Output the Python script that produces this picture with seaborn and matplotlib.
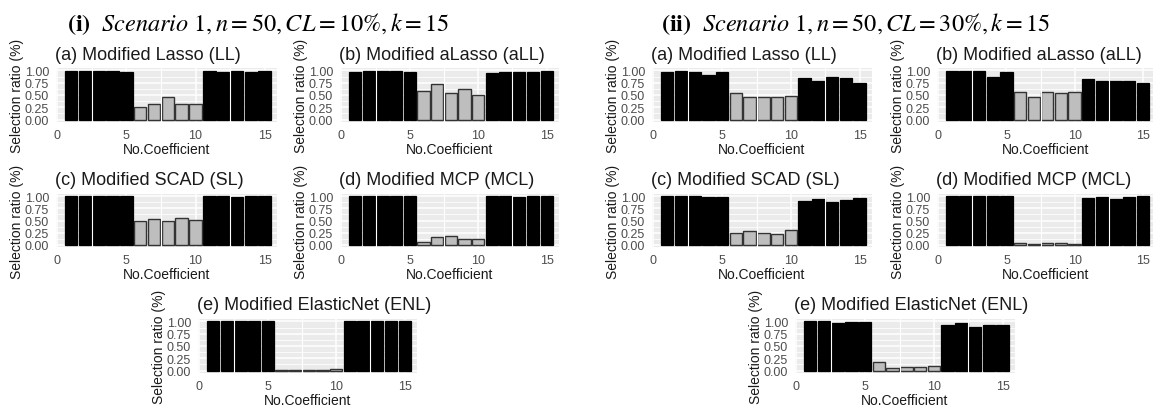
import matplotlib
matplotlib.use("Agg")
import matplotlib.pyplot as plt
import numpy as np
import pandas as pd
import seaborn as sns
from matplotlib.ticker import MultipleLocator, FixedLocator, FormatStrFormatter

# ---------------- data ----------------
coef = list(range(1, 16))
group = ["nonzero"] * 5 + ["zero"] * 5 + ["nonzero"] * 5

# (i) Scenario 1, n=50, CL=10%, k=15
i_LL  = [0.98, 0.99, 0.99, 0.99, 0.97, 0.25, 0.31, 0.45, 0.31, 0.31, 0.99, 0.96, 0.99, 0.97, 0.99]
i_aLL = [0.97, 0.99, 0.99, 0.99, 0.97, 0.58, 0.73, 0.55, 0.63, 0.51, 0.94, 0.96, 0.96, 0.96, 0.99]
i_SL  = [1.00, 1.00, 1.00, 1.00, 1.00, 0.50, 0.54, 0.49, 0.56, 0.52, 1.00, 1.00, 0.98, 1.00, 1.00]
i_MCL = [1.00, 1.00, 1.00, 1.00, 1.00, 0.05, 0.15, 0.18, 0.11, 0.11, 1.00, 1.00, 0.98, 1.00, 1.00]
i_ENL = [1.00, 1.00, 1.00, 1.00, 1.00, 0.01, 0.01, 0.02, 0.02, 0.04, 1.00, 1.00, 1.00, 1.00, 1.00]

# (ii) Scenario 1, n=50, CL=30%, k=15
ii_LL  = [0.97, 0.99, 0.97, 0.90, 0.97, 0.54, 0.45, 0.45, 0.46, 0.48, 0.84, 0.79, 0.86, 0.84, 0.74]
ii_aLL = [0.98, 0.98, 0.98, 0.86, 0.96, 0.57, 0.45, 0.57, 0.55, 0.57, 0.82, 0.78, 0.78, 0.78, 0.75]
ii_SL  = [1.00, 1.00, 1.00, 0.98, 0.99, 0.25, 0.29, 0.25, 0.23, 0.30, 0.90, 0.94, 0.88, 0.92, 0.96]
ii_MCL = [1.00, 1.00, 1.00, 1.00, 1.00, 0.04, 0.005, 0.04, 0.04, 0.02, 0.96, 0.98, 0.94, 0.98, 1.00]
ii_ENL = [1.00, 1.00, 0.97, 0.99, 0.99, 0.17, 0.05, 0.07, 0.07, 0.09, 0.93, 0.97, 0.89, 0.93, 0.93]

panel_titles = ["(a) Modified Lasso (LL)", "(b) Modified aLasso (aLL)",
                "(c) Modified SCAD (SL)", "(d) Modified MCP (MCL)",
                "(e) Modified ElasticNet (ENL)"]
y_ticks = [0.0, 0.25, 0.5, 0.75, 1.0]
x_ticks = [0, 5, 10, 15]
x_label = "No.Coefficient"
y_label = "Selection ratio (%)"
sup_i = r"$\mathbf{(i)}\ \ Scenario\ 1, n = 50, CL = 10\%, k = 15$"
sup_ii = r"$\mathbf{(ii)}\ \ Scenario\ 1, n = 50, CL = 30\%, k = 15$"

# ---------------- layout ----------------
W, H = 1153, 414
sns.set_theme(style="white")
plt.rcParams["font.family"] = ["Liberation Sans", "DejaVu Sans"]
plt.rcParams["mathtext.fontset"] = "stix"

fig = plt.figure(figsize=(W / 100, H / 100), dpi=100)

TXT = "#1A1A1A"
TICK_TXT = "#4D4D4D"


def add_panel(box, vals, title):
    x0, y0, x1, y1 = box
    rect = [x0 / W, 1 - y1 / H, (x1 - x0) / W, (y1 - y0) / H]
    ax = fig.add_axes(rect)
    df = pd.DataFrame({"coef": coef, "ratio": vals, "group": group})
    sns.barplot(data=df[df.group == "nonzero"], x="coef", y="ratio", native_scale=True,
                width=0.9, color="black", edgecolor="black", linewidth=0.9,
                saturation=1, errorbar=None, ax=ax)
    sns.barplot(data=df[df.group == "zero"], x="coef", y="ratio", native_scale=True,
                width=0.9, color="#BEBEBE", edgecolor="#333333", linewidth=1.0,
                saturation=1, errorbar=None, ax=ax)
    ax.set_facecolor("#EBEBEB")
    for s in ax.spines.values():
        s.set_visible(False)
    ax.set_xlim(-0.1, 15.9)
    ax.set_ylim(-0.05, 1.05)
    ax.xaxis.set_major_locator(FixedLocator(x_ticks))
    ax.xaxis.set_minor_locator(MultipleLocator(2.5))
    ax.yaxis.set_major_locator(FixedLocator(y_ticks))
    ax.yaxis.set_minor_locator(MultipleLocator(0.125))
    ax.yaxis.set_major_formatter(FormatStrFormatter("%.2f"))
    ax.set_axisbelow(True)
    ax.grid(which="major", color="white", linewidth=1.1)
    ax.grid(which="minor", color="white", linewidth=0.55)
    ax.tick_params(which="major", length=3.5, width=0.8, color="#333333",
                   labelsize=9, labelcolor=TICK_TXT, pad=1.5)
    ax.tick_params(which="minor", length=0)
    ax.set_xlabel("")
    ax.set_ylabel("")

    # overlay: vertical minor grid lines that stay visible across the bars
    ov = fig.add_axes(rect)
    ov.set_xlim(ax.get_xlim())
    ov.set_ylim(0, 1)
    ov.patch.set_visible(False)
    for s in ov.spines.values():
        s.set_visible(False)
    ov.xaxis.set_major_locator(FixedLocator(list(ax.xaxis.get_minorticklocs())))
    ov.set_yticks([])
    ov.tick_params(length=0, labelbottom=False, labelleft=False)
    ov.grid(which="major", axis="x", color="white", linewidth=0.8)

    # title, axis labels
    fig.text((x0 - 1) / W, 1 - (y0 - 14) / H, title, fontsize=13, color=TXT,
             ha="left", va="center")
    fig.text((x0 - 39) / W, 1 - ((y0 + y1) / 2) / H, y_label, fontsize=10,
             color=TXT, rotation=90, ha="center", va="center")
    fig.text(((x0 + x1) / 2) / W, 1 - (y1 + 27) / H, x_label, fontsize=10,
             color=TXT, ha="center", va="center")
    return ax


left_boxes = [(56, 69, 277, 123), (340, 69, 559, 123),
              (56, 195, 277, 248), (340, 195, 559, 248),
              (198, 320, 417, 374)]
right_boxes = [(652, 69, 872, 123), (937, 69, 1155, 123),
               (652, 195, 872, 248), (937, 195, 1155, 248),
               (795, 320, 1015, 374)]

for box, vals, t in zip(left_boxes, [i_LL, i_aLL, i_SL, i_MCL, i_ENL], panel_titles):
    add_panel(box, vals, t)
for box, vals, t in zip(right_boxes, [ii_LL, ii_aLL, ii_SL, ii_MCL, ii_ENL], panel_titles):
    add_panel(box, vals, t)

fig.text(258 / W, 1 - 24 / H, sup_i, fontsize=17.5, color="black", ha="center", va="center")
fig.text(855 / W, 1 - 24 / H, sup_ii, fontsize=17.5, color="black", ha="center", va="center")

fig.savefig("out.png", dpi=100, facecolor="white")
